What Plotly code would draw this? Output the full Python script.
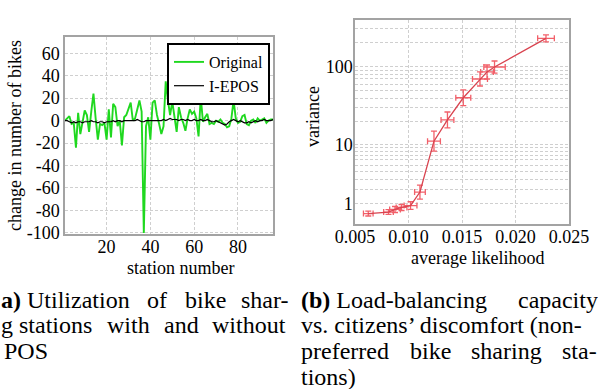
import plotly.graph_objects as go

# ---------- data: left panel ----------
stations = list(range(1, 97))
original = [0, 2, 4, -3, -2, -24, 7, -12, -2, 9,
            5, -10, 8, 24, 2, -17, -3, -4, -2, -17,
            10, -15, 15, 12, -5, 0, -22, 3, 5, 10,
            16, 0, 2, 10, 18, 8, -100, -5, 3, -17,
            16, 18, 5, -3, -12, -5, 35, 18, 5, 17,
            2, -10, 12, 3, -2, -9, 2, 10, 6, 8,
            2, -14, 21, -1, 3, 6, -3, -2, -3, 0,
            -1, 1, -2, -3, -6, -5, 2, 18, 2, -2,
            -1, 4, 5, -3, -4, 0, 1, -2, 2, 0,
            1, 2, -2, 0, 1, 1]
iepos = [0, 0, -1, -2, -1, -2, -1, -1, -2, -1,
         -1, -1, 0, -1, -1, -2, -1, -1, -2, -1,
         -1, -1, 0, -1, 0, 0, -1, 0, 0, 0,
         0, 0, 0, 1, 0, -1, -1, 0, 0, 0,
         0, 0, 0, 0, 0, 1, 0, 1, 2, 1,
         1, 1, 0, 1, 1, 0, 1, 0, 0, 1,
         0, 0, 1, 0, 0, 1, 0, -1, -1, 0,
         -1, -2, -3, -4, -3, -1, 0, 1, 0, -1,
         0, -1, -2, -2, -1, -2, -1, 0, -1, 0,
         0, 1, 0, 0, 0, 1]
left_xticks = [20, 40, 60, 80]
left_yticks = [-100, -80, -60, -40, -20, 0, 20, 40, 60]

# ---------- data: right panel ----------
likelihood = [0.00624, 0.00813, 0.00874, 0.00935, 0.01019, 0.01107, 0.01238,
              0.01364, 0.01512, 0.01668, 0.01734, 0.01804, 0.02285]
variance = [0.51, 0.58, 0.70, 0.80, 0.90, 1.80, 11.0, 21.0, 40.5, 70.0, 86.0, 99.0, 226.0]
var_err_plus = [0.11, 0.11, 0.15, 0.16, 0.22, 0.62, 4.0, 5.6, 10.6, 15.8, 19.0, 18.7, 24.0]
var_err_minus = [0.10, 0.10, 0.14, 0.15, 0.20, 0.51, 3.0, 4.5, 8.4, 12.9, 16.0, 15.8, 22.0]
lik_err = [0.00045, 0.00045, 0.0005, 0.0005, 0.0006, 0.0005, 0.0006,
           0.0006, 0.0007, 0.0007, 0.0006, 0.0010, 0.00078]
right_xticks = [0.005, 0.010, 0.015, 0.020, 0.025]
right_ylabels = [1, 10, 100]
right_grid = [1, 2, 3, 4, 5, 6, 7, 8, 9, 10, 20, 30, 40, 50, 60, 70, 80, 90, 100, 200, 300]
# the variance axis in the reference is logarithmic in (variance + 1)
offset = 1.0

W, H = 598, 389
def px(x):
    return x / W
def py(y):
    return 1 - y / H

FONT = "Liberation Serif"
GRID = "#cfcfcf"
FRAME = "#a3a3a3"
TICK = 18

fig = go.Figure()
fig.add_trace(go.Scatter(x=stations, y=original, mode="lines", name="Original",
                         line=dict(color="#1fd81f", width=1.9), xaxis="x", yaxis="y"))
fig.add_trace(go.Scatter(x=stations, y=iepos, mode="lines", name="I-EPOS",
                         line=dict(color="black", width=1.2), xaxis="x", yaxis="y"))
fig.add_trace(go.Scatter(x=likelihood, y=[v + offset for v in variance], mode="lines",
                         name="variance", showlegend=False,
                         line=dict(color="#d9434f", width=1.3),
                         error_y=dict(type="data", symmetric=False,
                                      array=var_err_plus, arrayminus=var_err_minus,
                                      color="#f2606a", thickness=1.3, width=3),
                         error_x=dict(type="data", array=lik_err,
                                      color="#f2606a", thickness=1.3, width=3),
                         xaxis="x2", yaxis="y2"))

axis_common = dict(showline=True, linecolor=FRAME, linewidth=1.5, mirror=True,
                   showgrid=True, gridcolor=GRID, griddash="3px,2px", gridwidth=1,
                   zeroline=False, ticks="", automargin=False,
                   tickfont=dict(family=FONT, size=TICK, color="black"))

fig.update_layout(
    width=W, height=H,
    margin=dict(l=0, r=0, t=0, b=0),
    paper_bgcolor="white", plot_bgcolor="white",
    showlegend=True,
    legend=dict(x=px(270), y=py(43), xanchor="right", yanchor="top",
                bgcolor="white", bordercolor="black", borderwidth=2,
                font=dict(family=FONT, size=16, color="black"),
                itemwidth=30, tracegroupgap=0),
    xaxis=dict(domain=[px(65), px(273)], range=[1, 96], anchor="y",
               tickvals=left_xticks, ticklabelstandoff=-4, **axis_common),
    yaxis=dict(domain=[py(234), py(37)], range=[-101, 74.5], anchor="x",
               tickvals=left_yticks, ticktext=[str(v) for v in left_yticks],
               title=dict(text="change in number of bikes", standoff=0,
                          font=dict(family=FONT, size=18, color="black")),
               **axis_common),
    xaxis2=dict(domain=[px(355), px(569)], range=[0.005, 0.025], anchor="y2",
                tickvals=right_xticks, ticktext=[f"{t:.3f}" for t in right_xticks],
                ticklabelstandoff=-4, **axis_common),
    yaxis2=dict(domain=[py(224), py(20)], type="log", range=[0.05, 2.584], anchor="x2",
                tickvals=[g + offset for g in right_grid],
                ticktext=[str(g) if g in right_ylabels else "" for g in right_grid],
                ticklabelstandoff=-3, **axis_common),
)

ann = []
def text(x, y, s, size=18, xanchor="center", angle=0):
    ann.append(dict(x=px(x), y=py(y), xref="paper", yref="paper", text=s, showarrow=False,
                    xanchor=xanchor, yanchor="middle", textangle=angle, borderpad=0,
                    font=dict(family=FONT, size=size, color="black")))

text(180, 268, "station number")
text(477, 258, "average likelihood")
text(313, 117, "variance", angle=-90)

CAP = 24
# caption (a), justified like the reference (the column is cut at the picture's left edge)
text(0, 300, "<b>a)</b> Utilization", CAP, xanchor="left")
text(157, 300, "of", CAP)
text(205, 300, "bike", CAP)
text(290, 300, "shar-", CAP, xanchor="right")
text(0, 325, "g stations", CAP, xanchor="left")
text(128, 325, "with", CAP)
text(181, 325, "and", CAP)
text(287, 325, "without", CAP, xanchor="right")
text(3, 351, "POS", CAP, xanchor="left")
# caption (b)
text(300, 300, "<b>(b)</b> Load-balancing", CAP, xanchor="left")
text(599, 300, "capacity", CAP, xanchor="right")
text(300, 325, "vs. citizens’ discomfort (non-", CAP, xanchor="left")
text(300, 351, "preferred", CAP, xanchor="left")
text(430, 351, "bike", CAP)
text(506, 351, "sharing", CAP)
text(598, 351, "sta-", CAP, xanchor="right")
text(300, 377, "tions)", CAP, xanchor="left")

fig.update_layout(annotations=ann)
fig.write_html("out.html")
